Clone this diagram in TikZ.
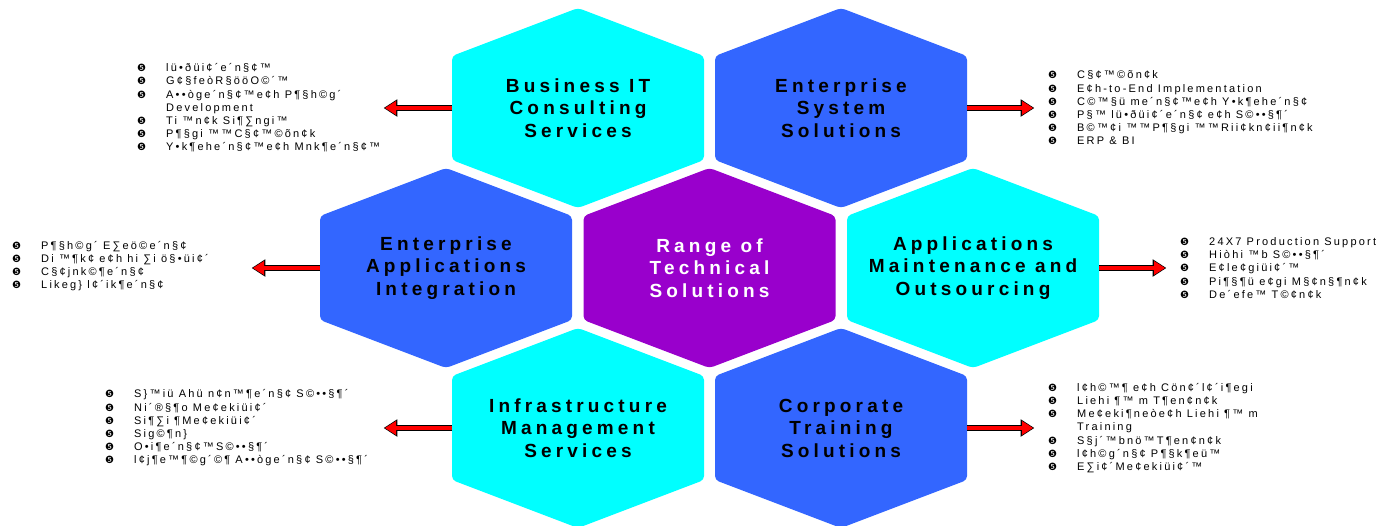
\documentclass[tikz,border=0pt]{standalone}
\usepackage{fontspec}
\setmainfont{Liberation Sans}
\newfontfamily\hexfont[LetterSpace=22]{Liberation Sans}
\newfontfamily\listfont[LetterSpace=20]{Liberation Sans}
\newfontfamily\bulfont{DejaVu Sans}
\usepackage{tikz}
\usetikzlibrary{arrows.meta}

\definecolor{hexcyan}{HTML}{00FFFF}
\definecolor{hexblue}{HTML}{3366FF}
\definecolor{hexpurple}{HTML}{9900CC}

\newcommand{\bul}{\makebox[29pt][l]{\bulfont\fontsize{10}{13.2}\selectfont ❺}}
\newcommand{\cont}{\makebox[29pt]{}}

\begin{document}
\begin{tikzpicture}[x=1pt, y=-1pt,
  hex/.style={minimum width=252pt, minimum height=200pt, inner sep=0pt, align=center,
    font=\hexfont\bfseries\fontsize{19}{22.5}\selectfont,
    path picture={\fill[#1, rounded corners=4pt] (path picture bounding box.north)
      -- ([yshift=-48pt]path picture bounding box.north east)
      -- ([yshift=48pt]path picture bounding box.south east)
      -- (path picture bounding box.south)
      -- ([yshift=48pt]path picture bounding box.south west)
      -- ([yshift=-48pt]path picture bounding box.north west) -- cycle;}},
  list/.style={inner sep=0pt, anchor=west, align=left,
    font=\listfont\fontsize{11}{13.2}\selectfont},
  arr/.style={red, line width=4.4pt, -{Triangle[length=11pt, width=14pt, line width=0pt]},
    preaction={draw=black, line width=6.2pt, shorten >=-1.2pt,
      -{Triangle[length=13.5pt, width=17.5pt, line width=0pt]}}}]
  \useasboundingbox (0,0) rectangle (1398,525);

  % Honeycomb
  \node[hex=hexcyan] (bit) at (578,108) {Business IT\\Consulting\\Services};
  \node[hex=hexblue] (ess) at (841,108) {Enterprise\\System\\Solutions};
  \node[hex=hexblue] (eai) at (446,268) {Enterprise\\Applications\\Integration};
  \node[hex=hexpurple, text=white] (rts) at (709.5,268) {Range of\\Technical\\Solutions};
  \node[hex=hexcyan] (ams) at (973,268) {Applications\\Maintenance and\\Outsourcing};
  \node[hex=hexcyan] (ims) at (578,428) {Infrastructure\\Management\\Services};
  \node[hex=hexblue] (cts) at (841,428) {Corporate\\Training\\Solutions};

  % Arrow ends
  \coordinate (bitend) at (385,108);
  \coordinate (essend) at (1033,108);
  \coordinate (eaiend) at (253,268);
  \coordinate (amsend) at (1165,268);
  \coordinate (imsend) at (385,428);
  \coordinate (ctsend) at (1033,428);
  \foreach \hx in {bit,ess,eai,ams,ims,cts}
    \draw[arr] (\hx) -- (\hx end);

  % Lists
  \node[list] (bitlist) at (137,108) {\bul lü•ðüi¢´e´n§¢™\\
    \bul G¢§feòR§ööO©´™\\
    \bul A••òge´n§¢™e¢h P¶§h©g´\\
    \cont Development\\
    \bul Ti ™n¢k Si¶∑ngi™\\
    \bul P¶§gi ™™C§¢™©õn¢k\\
    \bul Y•k¶ehe´n§¢™e¢h Mnk¶e´n§¢™};
  \node[list] (esslist) at (1048,108) {\bul C§¢™©õn¢k\\
    \bul E¢h-to-End Implementation\\
    \bul C©™§ü me´n§¢™e¢h Y•k¶ehe´n§¢\\
    \bul P§™ lü•ðüi¢´e´n§¢ e¢h S©••§¶´\\
    \bul B©™¢i ™™P¶§gi ™™Rii¢kn¢ii¶n¢k\\
    \bul ERP \& BI};
  \node[list] (eailist) at (12,266) {\bul P¶§h©g´ E∑eö©e´n§¢\\
    \bul Di ™¶k¢ e¢h hi ∑i ö§•üi¢´\\
    \bul C§¢jnk©¶e´n§¢\\
    \bul Likeg\} l¢´ik¶e´n§¢};
  \node[list] (amslist) at (1180,268) {\bul 24X7 Production Support\\
    \bul Hiòhi ™b S©••§¶´\\
    \bul E¢le¢giüi¢´™\\
    \bul Pi¶§¶ü e¢gi M§¢n§¶n¢k\\
    \bul De´efe™ T©¢n¢k};
  \node[list] (imslist) at (105,428) {\bul S\}™iü Ahü n¢n™¶e´n§¢ S©••§¶´\\
    \bul Ni´®§¶o Me¢ekiüi¢´\\
    \bul Si¶∑i ¶Me¢ekiüi¢´\\
    \bul Sig©¶n\}\\
    \bul O•i¶e´n§¢™S©••§¶´\\
    \bul l¢j¶e™¶©g´©¶ A••òge´n§¢ S©••§¶´};
  \node[list] (ctslist) at (1048,428) {\bul l¢h©™¶ e¢h Cön¢´l¢´i¶egi\\
    \bul Liehi ¶™ m T¶en¢n¢k\\
    \bul Me¢eki¶neòe¢h Liehi ¶™ m\\
    \cont Training\\
    \bul S§j´™bnö™T¶en¢n¢k\\
    \bul l¢h©g´n§¢ P¶§k¶eü™\\
    \bul E∑i¢´Me¢ekiüi¢´™};
\end{tikzpicture}
\end{document}
